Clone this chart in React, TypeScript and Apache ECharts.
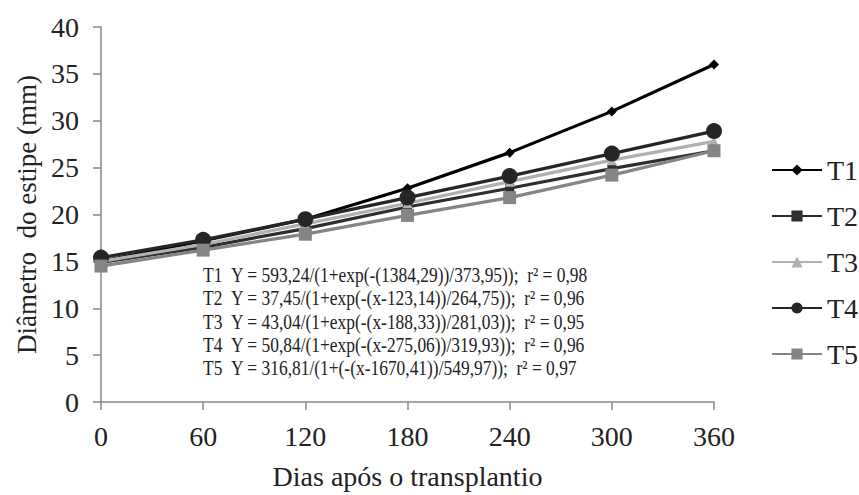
import React, { useEffect, useRef } from "react";
import * as echarts from "echarts";

const days = ["0", "60", "120", "180", "240", "300", "360"];
const seriesNames = ["T1", "T2", "T3", "T4", "T5"];
const t1 = [15.0, 17.2, 19.5, 22.8, 26.6, 31.0, 36.0];
const t2 = [14.9, 16.5, 18.5, 20.8, 22.8, 24.9, 26.8];
const t3 = [15.0, 16.8, 19.0, 21.2, 23.5, 25.8, 27.8];
const t4 = [15.4, 17.3, 19.5, 21.8, 24.1, 26.5, 28.9];
const t5 = [14.5, 16.2, 17.9, 19.9, 21.8, 24.2, 26.8];
const equations = [
  "T1\u00a0\u00a0Y = 593,24/(1+exp(-(1384,29))/373,95));\u00a0\u00a0r\u00b2 = 0,98",
  "T2\u00a0\u00a0Y = 37,45/(1+exp(-(x-123,14))/264,75));\u00a0\u00a0r\u00b2 = 0,96",
  "T3\u00a0\u00a0Y = 43,04/(1+exp(-(x-188,33))/281,03));\u00a0\u00a0r\u00b2 = 0,95",
  "T4\u00a0\u00a0Y = 50,84/(1+exp(-(x-275,06))/319,93));\u00a0\u00a0r\u00b2 = 0,96",
  "T5\u00a0\u00a0Y = 316,81/(1+(-(x-1670,41))/549,97));\u00a0\u00a0r\u00b2 = 0,97",
];

const FONT = "Liberation Serif";

export default function App() {
  const ref = useRef<HTMLDivElement>(null);
  useEffect(() => {
    if (!ref.current) return;
    const chart = echarts.init(ref.current, undefined, { renderer: "svg" });
    const styles = [
      { color: "#000000", symbol: "diamond", size: 10 },
      { color: "#2e2e2e", symbol: "rect", size: 9 },
      { color: "#b0b0b0", symbol: "triangle", size: 10 },
      { color: "#262626", symbol: "circle", size: 16 },
      { color: "#858585", symbol: "rect", size: 13 },
    ];
    const values = [t1, t2, t3, t4, t5];
    chart.setOption({
      animation: false,
      backgroundColor: "#ffffff",
      grid: { left: 101, right: 145, top: 27, bottom: 88, containLabel: false },
      xAxis: {
        type: "category",
        data: days,
        boundaryGap: false,
        name: "Dias após o transplantio",
        nameLocation: "middle",
        nameGap: 60,
        nameTextStyle: { fontFamily: FONT, fontSize: 28, color: "#222" },
        axisLine: { lineStyle: { color: "#888", width: 1.5 } },
        axisTick: { show: true, length: 8, alignWithLabel: true, lineStyle: { color: "#888", width: 1.5 } },
        axisLabel: { fontFamily: FONT, fontSize: 28, color: "#222", margin: 20 },
        splitLine: { show: false },
      },
      yAxis: {
        type: "value",
        min: 0,
        max: 40,
        interval: 5,
        name: "Diâmetro  do estipe (mm)",
        nameLocation: "middle",
        nameGap: 58,
        nameRotate: 90,
        nameTextStyle: { fontFamily: FONT, fontSize: 27, color: "#222" },
        axisLine: { show: true, lineStyle: { color: "#888", width: 1.5 } },
        axisTick: { show: true, length: 8, lineStyle: { color: "#888", width: 1.5 } },
        axisLabel: { fontFamily: FONT, fontSize: 28, color: "#222", margin: 22 },
        splitLine: { show: false },
      },
      legend: {
        orient: "vertical",
        left: 766,
        top: 151,
        itemWidth: 50,
        itemHeight: 14,
        itemGap: 18,
        data: seriesNames,
        textStyle: { fontFamily: FONT, fontSize: 28, color: "#222" },
      },
      series: seriesNames.map((n, i) => ({
        name: n,
        type: "line",
        data: values[i],
        symbol: styles[i].symbol,
        symbolSize: styles[i].size,
        itemStyle: { color: styles[i].color },
        lineStyle: { color: styles[i].color, width: 3.2 },
      })),
      graphic: equations.map((eq, i) => ({
        type: "text",
        x: 203,
        y: 275 + i * 23.3,
        scaleX: 0.83,
        style: {
          text: eq,
          fontFamily: FONT,
          fontSize: 21,
          fill: "#222",
          verticalAlign: "middle",
          align: "left",
        },
      })),
    });
    return () => chart.dispose();
  }, []);
  return <div ref={ref} style={{ position: "fixed", left: 0, top: 0, width: 859, height: 495 }} />;
}
